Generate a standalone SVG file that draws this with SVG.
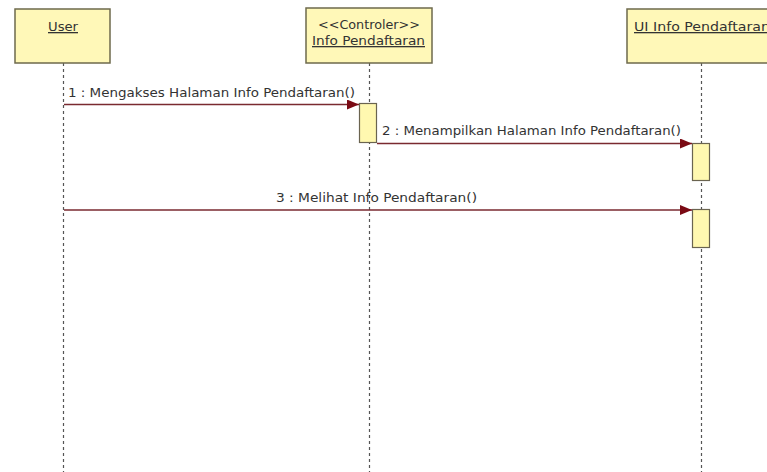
<svg xmlns="http://www.w3.org/2000/svg" width="767" height="472" viewBox="0 0 767 472">
  <defs>
    <marker id="arrow" markerWidth="12" markerHeight="10" refX="12" refY="5" orient="auto" markerUnits="userSpaceOnUse">
      <path d="M0,0 L12,5 L0,10 Z" fill="#7a0a14"/>
    </marker>
    <style>
      .head { fill: #fff8b8; stroke: #6e6a4c; stroke-width: 1.5; }
      .act { fill: #fff8b0; stroke: #6a6450; stroke-width: 1.2; }
      .life { stroke: #555; stroke-width: 1.2; stroke-dasharray: 3 3; fill: none; }
      .msg { stroke: #7a2a30; stroke-width: 1.6; fill: none; }
      .t { font-family: "DejaVu Sans Condensed", "DejaVu Sans", sans-serif; font-size: 12.5px; fill: #333; }
      .h { font-family: "DejaVu Sans Condensed", "DejaVu Sans", sans-serif; font-size: 13px; fill: #333; }
      .u { text-decoration: underline; }
    </style>
  </defs>
  <rect width="767" height="472" fill="#ffffff"/>

  <!-- lifelines -->
  <g id="lifelines">
    <line class="life" x1="63.5" y1="63" x2="63.5" y2="472"/>
    <line class="life" x1="369.5" y1="63" x2="369.5" y2="472"/>
    <line class="life" x1="701.5" y1="63" x2="701.5" y2="472"/>
  </g>

  <g id="user">
    <rect class="head" x="15" y="9" width="95" height="54"/>
    <text class="h u" x="48" y="31" textLength="30" lengthAdjust="spacingAndGlyphs">User</text>
  </g>

  <g id="controler">
    <rect class="head" x="306" y="8" width="126" height="55"/>
    <text class="h" x="318" y="29" textLength="102" lengthAdjust="spacingAndGlyphs">&lt;&lt;Controler&gt;&gt;</text>
    <text class="h u" x="312" y="45" textLength="113" lengthAdjust="spacingAndGlyphs">Info Pendaftaran</text>
    <rect class="act" x="359.5" y="103.5" width="17" height="39"/>
  </g>

  <g id="ui-info">
    <rect class="head" x="627" y="9" width="145" height="54"/>
    <text class="h u" x="634" y="31" textLength="136" lengthAdjust="spacingAndGlyphs">UI Info Pendaftaran</text>
    <rect class="act" x="692.5" y="143.5" width="17" height="37"/>
    <rect class="act" x="692.5" y="209.5" width="17" height="38"/>
  </g>

  <!-- messages -->
  <g id="connectors">
    <line class="msg" x1="64" y1="104.5" x2="359" y2="104.5" marker-end="url(#arrow)"/>
    <text class="t" x="68" y="97" textLength="287" lengthAdjust="spacingAndGlyphs">1 : Mengakses Halaman Info Pendaftaran()</text>

    <line class="msg" x1="377" y1="143.5" x2="692" y2="143.5" marker-end="url(#arrow)"/>
    <text class="t" x="382" y="135" textLength="299" lengthAdjust="spacingAndGlyphs">2 : Menampilkan Halaman Info Pendaftaran()</text>

    <line class="msg" x1="64" y1="210" x2="692" y2="210" marker-end="url(#arrow)"/>
    <text class="t" x="276" y="202" textLength="201" lengthAdjust="spacingAndGlyphs">3 : Melihat Info Pendaftaran()</text>
  </g>
</svg>
